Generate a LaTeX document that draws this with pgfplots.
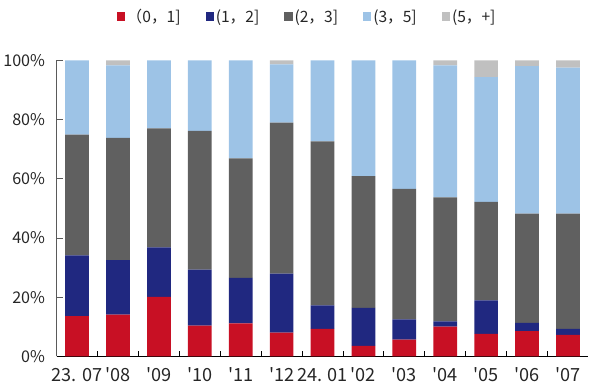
\documentclass[border=0pt]{standalone}
\usepackage{pgfplots}
\pgfplotsset{compat=1.18}
\usepackage{pgfplotstable}
\usepackage{fontspec}
\setmainfont{Noto Sans CJK SC}[Ligatures=TeXOff]
\definecolor{cRed}{RGB}{200,16,36}
\definecolor{cBlue}{RGB}{32,40,128}
\definecolor{cGray}{RGB}{96,96,96}
\definecolor{cLBlue}{RGB}{157,195,230}
\definecolor{cLGray}{RGB}{192,192,192}
\definecolor{axgray}{RGB}{90,90,90}

\pgfplotstableread{
x a b c d e
0 13.6 20.5 40.8 25.1 0
1 14.1 18.4 41.3 24.5 1.7
2 20.1 16.7 40.2 23.0 0
3 10.4 18.9 46.9 23.8 0
4 11.2 15.3 40.4 33.1 0
5 8.0 20.0 51.0 19.6 1.4
6 9.3 7.9 55.4 27.4 0
7 3.6 12.8 44.5 39.1 0
8 5.7 6.8 44.1 43.4 0
9 10.1 1.7 41.9 44.6 1.7
10 7.6 11.3 33.3 42.1 5.7
11 8.5 2.8 36.9 49.8 2.0
12 7.3 2.0 38.9 49.3 2.5
}\data

\begin{document}
\begin{tikzpicture}
\begin{axis}[
  scale only axis,
  width=528pt, height=294pt,
  ybar stacked, bar width=0.58,
  xmin=-0.5, xmax=12.5, ymin=0, ymax=100,
  axis x line*=bottom, axis y line*=left,
  x axis line style={black, line width=1.2pt},
  y axis line style={axgray, line width=0.9pt},
  xtick={0,...,12},
  xticklabels={{23. 07},{'08},{'09},{'10},{'11},{'12},{24. 01},{'02},{'03},{'04},{'05},{'06},{'07}},
  minor xtick={0.5,1.5,...,11.5},
  major x tick style={draw=none},
  minor x tick style={black, line width=0.8pt},
  minor tick length=5pt,
  ytick={0,20,40,60,80,100},
  yticklabels={0\%,20\%,40\%,60\%,80\%,100\%},
  y tick style={axgray, line width=0.9pt},
  major tick length=6pt,
  tick align=inside,
  xticklabel style={font=\fontsize{18}{20}\selectfont, text height=13pt, text depth=0pt, yshift=-8pt, text=black!85},
  yticklabel style={font=\fontsize{16}{18}\selectfont, xshift=-8pt, text=black!85},
  legend style={at={(0.471,1.148)}, anchor=center, legend columns=5, draw=none,
    font=\fontsize{15.5}{17}\selectfont, text=black!85,
    /tikz/every even column/.append style={column sep=23pt},
    /tikz/every odd column/.append style={column sep=0pt}},
  legend image code/.code={\fill[#1] (0pt,-4pt) rectangle (8pt,4pt);},
]
\addplot[fill=cRed, draw=none] table[x=x,y=a]{\data};
\addplot[fill=cBlue, draw=none] table[x=x,y=b]{\data};
\addplot[fill=cGray, draw=none] table[x=x,y=c]{\data};
\addplot[fill=cLBlue, draw=none] table[x=x,y=d]{\data};
\addplot[fill=cLGray, draw=none] table[x=x,y=e]{\data};
\legend{{（0，1]},{(1，2]},{(2，3]},{(3，5]},{(5，+]}}
\end{axis}
\path ([yshift=5pt]current bounding box.north) -- ([yshift=-2pt]current bounding box.south);
\end{tikzpicture}
\end{document}
